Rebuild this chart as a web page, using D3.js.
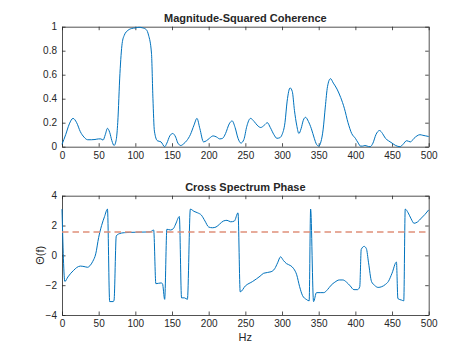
<!DOCTYPE html>
<html>
<head>
<meta charset="utf-8">
<script src="https://cdn.jsdelivr.net/npm/d3@7"></script>
<style>
  body { margin: 0; background: #fff; }
  svg { display: block; }
  text { font-family: "Liberation Sans", Arial, sans-serif; fill: #262626; }
</style>
</head>
<body>
<svg id="chart" width="474" height="355"></svg>
<script>
// ---- data ----
const cohHz  = [0,5,10,15,20,25,30,35,40,45,50,53,56,59,62,65,68,71,74,76,79,82,85,90,95,100,105,110,115,118,122,124,126,130,135,140,143,147,151,155,158,162,166,170,175,180,184,188,193,197,201,206,211,215,219,223,228,232,236,240,244,248,252,257,262,266,271,276,280,284,289,293,297,300,304,307,311,314,317,320,323,326,329,332,336,340,344,347,350,353,356,359,362,366,370,375,380,385,390,395,400,404,407,410,413,416,420,424,428,433,437,441,445,450,455,461,465,470,475,480,484,488,492,496,500];
const cohVal = [0.02,0.1,0.19,0.236,0.2,0.125,0.08,0.058,0.058,0.06,0.065,0.065,0.055,0.1,0.153,0.12,0.05,0.01,0.06,0.2,0.61,0.86,0.93,0.97,0.985,0.99,0.995,0.99,0.975,0.93,0.78,0.4,0.13,0.05,0.04,0.0,0.03,0.09,0.11,0.08,0.03,0.01,0.025,0.05,0.1,0.18,0.236,0.15,0.04,0.05,0.07,0.09,0.08,0.065,0.07,0.11,0.19,0.215,0.16,0.07,0.03,0.06,0.17,0.236,0.21,0.18,0.16,0.18,0.2,0.16,0.1,0.07,0.075,0.1,0.2,0.38,0.49,0.46,0.3,0.18,0.11,0.15,0.22,0.245,0.21,0.15,0.07,0.02,0.005,0.04,0.14,0.33,0.5,0.567,0.53,0.48,0.41,0.32,0.2,0.11,0.07,0.03,0.005,0.005,0.01,0.005,0.0,0.03,0.1,0.135,0.11,0.07,0.05,0.03,0.01,0.0,0.02,0.05,0.04,0.07,0.09,0.1,0.095,0.09,0.085];

const phaseHz  = [0,3.9,8,12,16,20,25,30,35,38,42,46,50,54,58,62,65,70,71,74,78,85,100,120,125,128,135,137,140,143,148,152,155,160,163,167,171,175,180,185,190,195,200,205,210,215,220,225,230,235,240,243,250,260,270,275,285,290,294,298,302,306,312,316,320,324,328,333,337,339,343,347,352,357,362,367,372,378,383,388,393,398,403,406,408,412,415,418,422,426,431,436,441,445,450,456,458,463,466,468,472,476,480,485,490,495,500];
const phaseVal = [3.1,-1.75,-1.45,-1.2,-1.0,-0.82,-0.72,-0.75,-0.8,-0.7,-0.4,0.1,1.2,2.0,2.6,3.1,-3.1,-3.1,-3.0,1.3,1.45,1.52,1.55,1.57,1.7,-1.9,-1.85,-1.9,-2.95,1.75,1.7,1.8,2.1,2.6,-2.85,-2.85,-2.95,3.1,2.95,2.85,2.7,2.3,1.9,1.85,1.9,2.1,2.3,2.35,2.25,2.3,2.85,-2.45,-2.05,-1.75,-1.4,-1.2,-1.1,-0.9,-0.5,-0.1,-0.35,-0.55,-0.7,-0.9,-1.3,-2.1,-2.7,-2.95,-3.05,3.1,-3.1,-2.5,-2.5,-2.5,-2.3,-2.0,-1.8,-1.65,-1.65,-1.8,-2.05,-2.3,-2.3,-2.1,0.4,0.6,0.45,-0.5,-1.75,-2.0,-2.15,-2.1,-1.95,-1.75,-1.2,-0.45,-2.9,-3.0,-3.05,3.1,2.85,2.45,2.15,2.25,2.5,2.75,3.05];

const refLevel = Math.PI / 2;

const xTicks = [0,50,100,150,200,250,300,350,400,450,500];
const cohTicks = [0,0.2,0.4,0.6,0.8,1];
const phaseTicks = [-4,-2,0,2,4];

const titles = ["Magnitude-Squared Coherence", "Cross Spectrum Phase"];
const xLabel = "Hz";
const yLabelPhase = "Θ(f)";

// ---- layout ----
const svg = d3.select("#chart");
svg.append("rect").attr("width", 474).attr("height", 355).attr("fill", "#fff");

const L = 62, R = 428.7;
const panels = [
  { top: 26.7, bottom: 146.7, domain: [0, 1], ticks: cohTicks, fmt: d => d3.format("")(d) },
  { top: 195.7, bottom: 315, domain: [-4, 4], ticks: phaseTicks, fmt: d => d3.format("")(d) }
];
const axisColor = "#262626";

function drawPanel(p, title) {
  const x = d3.scaleLinear().domain([0, 500]).range([L, R]);
  const y = d3.scaleLinear().domain(p.domain).range([p.bottom, p.top]);
  const g = svg.append("g");

  const styleAxis = sel => {
    sel.select(".domain").attr("stroke", axisColor).attr("stroke-width", 0.8);
    sel.selectAll(".tick line").attr("stroke", axisColor).attr("stroke-width", 0.8);
    sel.selectAll(".tick text").attr("fill", axisColor).style("font-size", "10px")
       .style("font-family", "'Liberation Sans', Arial, sans-serif");
  };

  g.append("g").attr("transform", `translate(0,${p.bottom})`)
    .call(d3.axisBottom(x).tickValues(xTicks).tickSizeInner(-3.5).tickSizeOuter(0).tickPadding(5))
    .call(styleAxis);
  g.append("g").attr("transform", `translate(0,${p.top})`)
    .call(d3.axisTop(x).tickValues(xTicks).tickSizeInner(-3.5).tickSizeOuter(0).tickFormat(""))
    .call(styleAxis);
  g.append("g").attr("transform", `translate(${L},0)`)
    .call(d3.axisLeft(y).tickValues(p.ticks).tickSizeInner(-3.5).tickSizeOuter(0).tickPadding(5).tickFormat(p.fmt))
    .call(styleAxis);
  g.append("g").attr("transform", `translate(${R},0)`)
    .call(d3.axisRight(y).tickValues(p.ticks).tickSizeInner(-3.5).tickSizeOuter(0).tickFormat(""))
    .call(styleAxis);

  svg.append("text")
    .attr("x", (L + R) / 2).attr("y", p.top - 5)
    .attr("text-anchor", "middle")
    .style("font-size", "11px").style("font-weight", "bold")
    .attr("fill", "#000")
    .text(title);
  return { x, y };
}

// Top: coherence
const s1 = drawPanel(panels[0], titles[0]);
const cohData = cohHz.map((h, i) => [h, cohVal[i]]);
svg.append("path")
  .datum(cohData)
  .attr("fill", "none").attr("stroke", "#0072BD").attr("stroke-width", 1)
  .attr("d", d3.line().x(d => s1.x(d[0])).y(d => s1.y(d[1])).curve(d3.curveMonotoneX));

// Bottom: phase
const s2 = drawPanel(panels[1], titles[1]);
const phData = phaseHz.map((h, i) => [h, phaseVal[i]]);
svg.append("path")
  .datum(phData)
  .attr("fill", "none").attr("stroke", "#0072BD").attr("stroke-width", 1)
  .attr("d", d3.line().x(d => s2.x(d[0])).y(d => s2.y(d[1])).curve(d3.curveMonotoneX));

svg.append("line")
  .attr("x1", s2.x(0)).attr("x2", s2.x(500))
  .attr("y1", s2.y(refLevel)).attr("y2", s2.y(refLevel))
  .attr("stroke", "#E0907A").attr("stroke-width", 1.6)
  .attr("stroke-dasharray", "6.5,4");

svg.append("text")
  .attr("x", (L + R) / 2).attr("y", 341)
  .attr("text-anchor", "middle")
  .style("font-size", "11px")
  .text(xLabel);

svg.append("text")
  .attr("transform", `translate(44,${(panels[1].top + panels[1].bottom) / 2}) rotate(-90)`)
  .attr("text-anchor", "middle")
  .style("font-size", "11px")
  .text(yLabelPhase);
</script>
</body>
</html>
